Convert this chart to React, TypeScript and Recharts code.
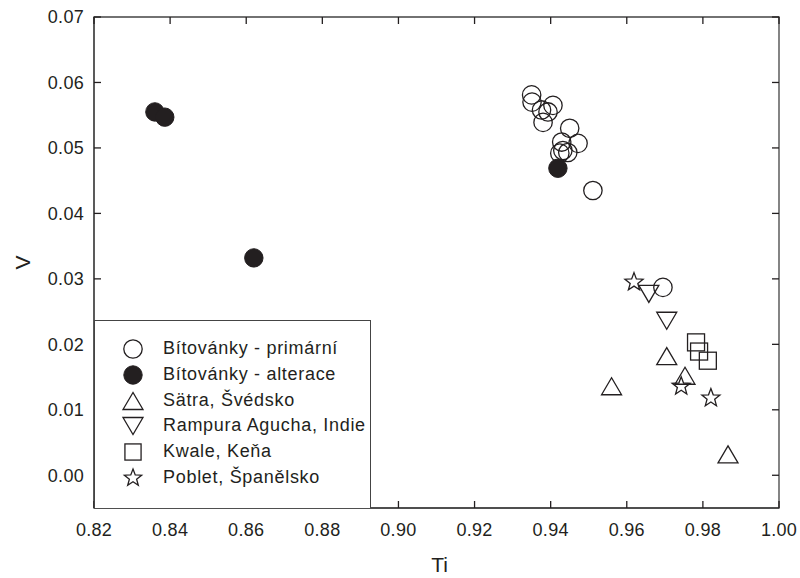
import React from 'react'
import { ScatterChart, Scatter, XAxis, YAxis, ReferenceArea } from 'recharts'

// Ti vs V
const primarni = [
  { ti: 0.935, v: 0.0581 },
  { ti: 0.9351, v: 0.057 },
  { ti: 0.9376, v: 0.0558 },
  { ti: 0.9406, v: 0.0565 },
  { ti: 0.9393, v: 0.0555 },
  { ti: 0.938, v: 0.0539 },
  { ti: 0.945, v: 0.053 },
  { ti: 0.9429, v: 0.0509 },
  { ti: 0.9472, v: 0.0507 },
  { ti: 0.9432, v: 0.0496 },
  { ti: 0.9445, v: 0.0493 },
  { ti: 0.9424, v: 0.0492 },
  { ti: 0.9511, v: 0.0435 },
  { ti: 0.9695, v: 0.0287 },
]
const alterace = [
  { ti: 0.836, v: 0.0555 },
  { ti: 0.8386, v: 0.0547 },
  { ti: 0.862, v: 0.0332 },
  { ti: 0.9419, v: 0.0469 },
]
const satra = [
  { ti: 0.956, v: 0.0136 },
  { ti: 0.9705, v: 0.0182 },
  { ti: 0.9753, v: 0.0152 },
  { ti: 0.9866, v: 0.0032 },
]
const rampura = [
  { ti: 0.9658, v: 0.0277 },
  { ti: 0.9705, v: 0.0236 },
]
const kwale = [
  { ti: 0.9782, v: 0.0203 },
  { ti: 0.979, v: 0.0189 },
  { ti: 0.9813, v: 0.0175 },
]
const poblet = [
  { ti: 0.9619, v: 0.0295 },
  { ti: 0.9743, v: 0.0136 },
  { ti: 0.9821, v: 0.0118 },
]

const tiTicks = [0.82, 0.84, 0.86, 0.88, 0.9, 0.92, 0.94, 0.96, 0.98, 1.0]
const vTicks = [0, 0.01, 0.02, 0.03, 0.04, 0.05, 0.06, 0.07]

const INK = '#231f20'
const AXIS = '#444'
const FONT = '"Liberation Sans", Arial, Helvetica, sans-serif'

// plot box edges (from chart margins / axis sizes)
const TOP = 17
const RIGHT = 779
const TICK_LEN = 7
const X_GAP = 15
const Y_GAP = 10

type Kind = 'open' | 'filled' | 'up' | 'down' | 'square' | 'star'

const starPoints = (cx: number, cy: number, R: number, r: number) => {
  const pts: string[] = []
  for (let i = 0; i < 10; i++) {
    const rad = i % 2 === 0 ? R : r
    const a = -Math.PI / 2 + (i * Math.PI) / 5
    pts.push(`${cx + rad * Math.cos(a)},${cy + rad * Math.sin(a)}`)
  }
  return pts.join(' ')
}

const Marker = ({ kind, cx, cy, s = 1 }: { kind: Kind; cx: number; cy: number; s?: number }) => {
  const common = { stroke: INK, strokeWidth: 1.3, fill: 'none' }
  switch (kind) {
    case 'open':
      return <circle cx={cx} cy={cy} r={9.2 * s} {...common} />
    case 'filled':
      return <circle cx={cx} cy={cy} r={9.2 * s} fill={INK} stroke={INK} />
    case 'up':
      return (
        <polygon
          points={`${cx},${cy - 8.5 * s} ${cx - 10 * s},${cy + 8.5 * s} ${cx + 10 * s},${cy + 8.5 * s}`}
          {...common}
        />
      )
    case 'down':
      return (
        <polygon
          points={`${cx - 10 * s},${cy - 8.5 * s} ${cx + 10 * s},${cy - 8.5 * s} ${cx},${cy + 8.5 * s}`}
          {...common}
        />
      )
    case 'square':
      return <rect x={cx - 8.5 * s} y={cy - 8.5 * s} width={17 * s} height={17 * s} {...common} />
    case 'star':
      return <polygon points={starPoints(cx, cy, 9.5 * s, 4 * s)} {...common} />
  }
}

const shapeOf = (kind: Kind) => (props: any) => <Marker kind={kind} cx={props.cx} cy={props.cy} />

const series: { name: string; kind: Kind; data: { ti: number; v: number }[] }[] = [
  { name: 'Bítovánky - primární', kind: 'open', data: primarni },
  { name: 'Bítovánky - alterace', kind: 'filled', data: alterace },
  { name: 'Sätra, Švédsko', kind: 'up', data: satra },
  { name: 'Rampura Agucha, Indie', kind: 'down', data: rampura },
  { name: 'Kwale, Keňa', kind: 'square', data: kwale },
  { name: 'Poblet, Španělsko', kind: 'star', data: poblet },
]

const labelStyle = { fontSize: 18, fill: INK, fontFamily: FONT, letterSpacing: 0.3 }

// bottom tick: label plus inward tick marks on bottom and top edges
const TiTick = (props: any) => {
  const { x, y, payload } = props
  const axisY = y - X_GAP
  return (
    <g>
      <line x1={x} y1={axisY} x2={x} y2={axisY - TICK_LEN} stroke={INK} strokeWidth={1.3} />
      <line x1={x} y1={TOP} x2={x} y2={TOP + TICK_LEN} stroke={INK} strokeWidth={1.3} />
      <text x={x} y={y} dy="0.71em" textAnchor="middle" {...labelStyle}>
        {Number(payload.value).toFixed(2)}
      </text>
    </g>
  )
}

// left tick: label plus inward tick marks on left and right edges
const VTick = (props: any) => {
  const { x, y, payload } = props
  const axisX = x + Y_GAP
  return (
    <g>
      <line x1={axisX} y1={y} x2={axisX + TICK_LEN} y2={y} stroke={INK} strokeWidth={1.3} />
      <line x1={RIGHT} y1={y} x2={RIGHT - TICK_LEN} y2={y} stroke={INK} strokeWidth={1.3} />
      <text x={x} y={y} dy="0.36em" textAnchor="end" {...labelStyle}>
        {Number(payload.value).toFixed(2)}
      </text>
    </g>
  )
}

const YTitle = (props: any) => {
  const vb = props.viewBox || { x: 0, y: 17, width: 94, height: 491 }
  const cy = vb.y + vb.height / 2
  return (
    <text
      x={22}
      y={cy}
      transform={`rotate(-90 22 ${cy})`}
      textAnchor="middle"
      dominantBaseline="central"
      fontSize={21}
      fontFamily={FONT}
      fill={INK}
    >
      V
    </text>
  )
}

const XTitle = (props: any) => {
  const vb = props.viewBox || { x: 94, y: 508, width: 685, height: 70 }
  return (
    <text x={vb.x + vb.width / 2 + 3} y={572} textAnchor="middle" fontSize={21} fontFamily={FONT} fill={INK}>
      Ti
    </text>
  )
}

const LegendBox = () => (
  <div
    style={{
      position: 'absolute',
      left: 94,
      top: 320,
      width: 277,
      height: 188,
      boxSizing: 'border-box',
      border: `1.3px solid ${AXIS}`,
      borderBottom: 'none',
      background: '#fff',
      paddingTop: 15,
      fontFamily: FONT,
      fontSize: 18,
      letterSpacing: 0.7,
      color: INK,
    }}
  >
    {series.map((s) => (
      <div key={s.name} style={{ position: 'relative', height: 25.8, lineHeight: '25.8px' }}>
        <svg width={26} height={26} style={{ position: 'absolute', left: 24.5, top: 0 }}>
          <Marker kind={s.kind} cx={13} cy={13} s={s.kind === 'square' || s.kind === 'star' ? 0.95 : 1} />
        </svg>
        <span style={{ position: 'absolute', left: 68, top: 0, whiteSpace: 'nowrap' }}>{s.name}</span>
      </div>
    ))}
  </div>
)

export default function App() {
  return (
    <div style={{ position: 'absolute', left: 0, top: 0, width: 800, height: 578, background: '#fff' }}>
      <ScatterChart width={800} height={578} margin={{ top: TOP, right: 800 - RIGHT, bottom: 0, left: 0 }}>
        <ReferenceArea
          x1={0.82}
          x2={1.0}
          y1={-0.005}
          y2={0.07}
          fill="none"
          stroke={AXIS}
          strokeWidth={1.3}
          fillOpacity={0}
        />
        <XAxis
          type="number"
          dataKey="ti"
          domain={[0.82, 1.0]}
          ticks={tiTicks}
          interval={0}
          allowDataOverflow
          height={70}
          tick={TiTick}
          tickSize={0}
          tickMargin={X_GAP}
          tickLine={false}
          axisLine={{ stroke: AXIS, strokeWidth: 1.3 }}
          label={XTitle}
        />
        <YAxis
          type="number"
          dataKey="v"
          domain={[-0.005, 0.07]}
          ticks={vTicks}
          interval={0}
          allowDataOverflow
          width={94}
          tick={VTick}
          tickSize={0}
          tickMargin={Y_GAP}
          tickLine={false}
          axisLine={{ stroke: AXIS, strokeWidth: 1.3 }}
          label={YTitle}
        />
        {series.map((s) => (
          <Scatter
            key={s.name}
            name={s.name}
            data={s.data}
            shape={shapeOf(s.kind)}
            isAnimationActive={false}
          />
        ))}
      </ScatterChart>
      <LegendBox />
    </div>
  )
}
